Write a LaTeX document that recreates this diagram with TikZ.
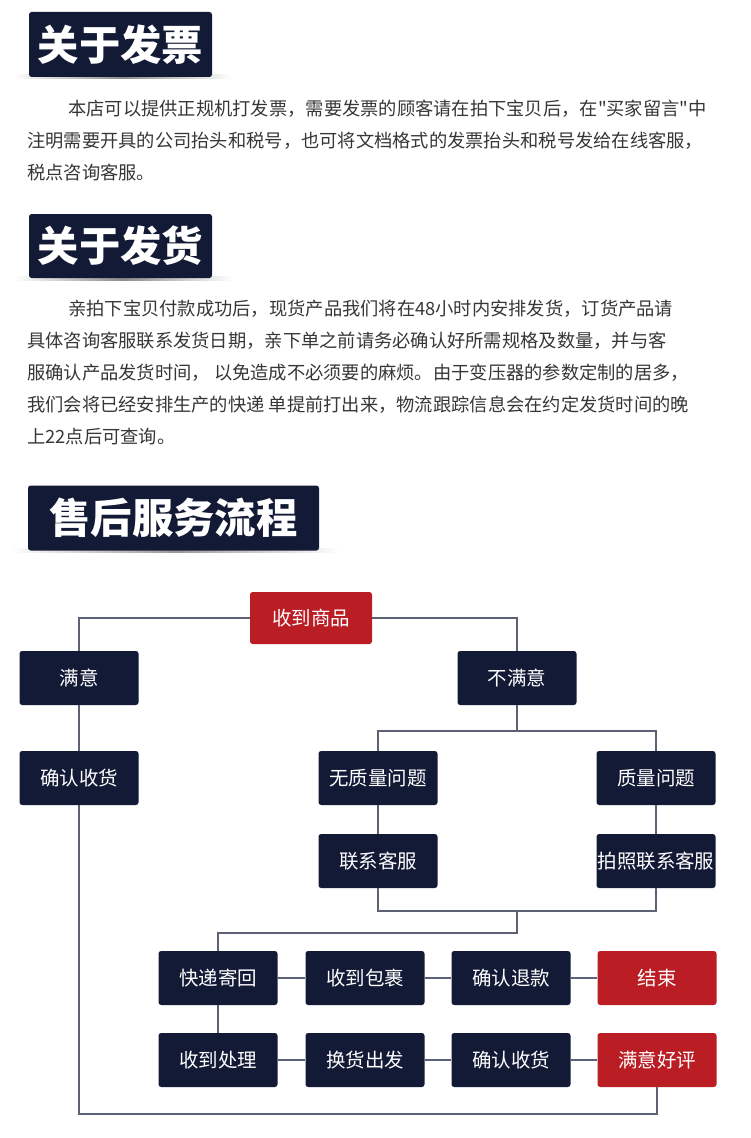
\documentclass[tikz,border=0pt]{standalone}
\usepackage{fontspec}
\setmainfont{Noto Sans CJK SC}[Ligatures=TeXOff]
\usetikzlibrary{calc}
\definecolor{navyfill}{HTML}{131A36}
\definecolor{redfill}{HTML}{BA1D24}
\definecolor{linkgray}{HTML}{5C6176}
\definecolor{bodygray}{HTML}{363636}
\begin{document}
\begin{tikzpicture}[x=0.75pt,y=0.75pt,yscale=-1,
  banner/.style={fill=navyfill,rounded corners=2pt,text=white,font=\bfseries\fontsize{31pt}{31pt}\selectfont,inner sep=0pt},
  bodyline/.style={anchor=west,inner sep=0pt,text=bodygray,font=\fontsize{13.7pt}{16pt}\selectfont},
  flowbox/.style={fill=navyfill,rounded corners=2pt,text=white,minimum width=89.25pt,minimum height=40.5pt,inner sep=0pt,font=\fontsize{14.6pt}{16pt}\selectfont},
  redbox/.style={flowbox,fill=redfill},
  link/.style={draw=linkgray,line width=1.1pt}]
\useasboundingbox (0,0) rectangle (750,1138);

%Shape: Shadow
\shade [left color=white,right color=white,middle color=black!45] (14,75) rectangle (232,79) ;
\shade [left color=white,right color=white,middle color=black!45] (14,276) rectangle (232,280) ;
\shade [left color=white,right color=white,middle color=black!40] (10,548) rectangle (340,552) ;

% Text Node
\node [banner,minimum width=137.25pt,minimum height=48.75pt] (invhead) at (120.5,44.5) {关于发票};
% Text Node
\node [bodyline] (inv1) at (68,109) {本店可以提供正规机打发票，需要发票的顾客请在拍下宝贝后，在"买家留言"中};
\node [bodyline] (inv2) at (27,141) {注明需要开具的公司抬头和税号，也可将文档格式的发票抬头和税号发给在线客服，};
\node [bodyline] (inv3) at (27,173) {税点咨询客服。};

% Text Node
\node [banner,minimum width=137.25pt,minimum height=48pt] (shiphead) at (120.5,246) {关于发货};
% Text Node
\node [bodyline] (del1) at (68,309) {亲拍下宝贝付款成功后，现货产品我们将在48小时内安排发货，订货产品请};
\node [bodyline] (del2) at (27,341) {具体咨询客服联系发货日期，亲下单之前请务必确认好所需规格及数量，并与客};
\node [bodyline] (del3) at (27,373) {服确认产品发货时间， 以免造成不必须要的麻烦。由于变压器的参数定制的居多，};
\node [bodyline] (del4) at (27,405) {我们会将已经安排生产的快递 单提前打出来，物流跟踪信息会在约定发货时间的晚};
\node [bodyline] (del5) at (27,437) {上22点后可查询。};

% Text Node
\node [banner,minimum width=218.25pt,minimum height=48.75pt] (flowhead) at (173.5,518) {售后服务流程};

%Shape: Rectangle
\node [redbox,minimum width=91.5pt,minimum height=39pt] (recv) at (311,618) {收到商品};
\node [flowbox] (good) at (79,678) {满意};
\node [flowbox] (bad) at (517,678) {不满意};
\node [flowbox] (okleft) at (79,778) {确认收货};
\node [flowbox] (noqual) at (378,778) {无质量问题};
\node [flowbox] (qual) at (656,778) {质量问题};
\node [flowbox] (contact) at (378,861) {联系客服};
\node [flowbox] (photo) at (656,861) {拍照联系客服};
\node [flowbox] (ship) at (218,978) {快递寄回};
\node [flowbox] (parcel) at (365,978) {收到包裹};
\node [flowbox] (refund) at (511,978) {确认退款};
\node [redbox] (finish) at (657,978) {结束};
\node [flowbox] (handle) at (218,1060) {收到处理};
\node [flowbox] (exchange) at (365,1060) {换货出发};
\node [flowbox] (confirm) at (511,1060) {确认收货};
\node [redbox] (praise) at (657,1060) {满意好评};

\coordinate (split) at (517,731);
\coordinate (merge) at (517,911);
\coordinate (turn) at (517,933);
\coordinate (bottom) at (79,1114);

%Straight Lines
\draw [link] (recv.west) -| (good.north) ;
\draw [link] (recv.east) -| (bad.north) ;
\draw [link] (good.south) -- (okleft.north) ;
\draw [link] (bad.south) -- (split) ;
\draw [link] (noqual.north) |- (split) -| (qual.north) ;
\draw [link] (noqual.south) -- (contact.north) ;
\draw [link] (qual.south) -- (photo.north) ;
\draw [link] (contact.south) |- (merge) -| (photo.south) ;
\draw [link] (merge) -- (turn) -| (ship.north) ;
\draw [link] (ship.east) -- (parcel.west) ;
\draw [link] (parcel.east) -- (refund.west) ;
\draw [link] (refund.east) -- (finish.west) ;
\draw [link] (ship.south) -- (handle.north) ;
\draw [link] (handle.east) -- (exchange.west) ;
\draw [link] (exchange.east) -- (confirm.west) ;
\draw [link] (confirm.east) -- (praise.west) ;
\draw [link] (okleft.south) -- (bottom) -| (praise.south) ;

\end{tikzpicture}
\end{document}
